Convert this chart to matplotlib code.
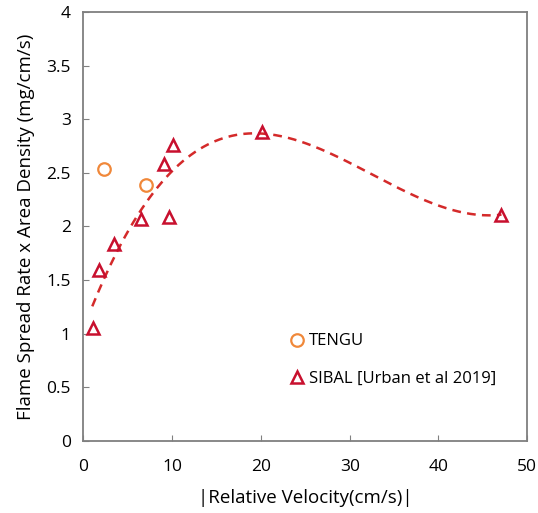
import numpy as np
import matplotlib
matplotlib.use("Agg")
import matplotlib.pyplot as plt

plt.rcParams['font.family'] = ['Open Sans', 'DejaVu Sans']

# data
tengu_x = [2.35, 7.05]
tengu_y = [2.54, 2.39]
sibal_x = [1.04, 1.78, 3.47, 6.48, 9.68, 9.08, 10.13, 20.1, 47.1]
sibal_y = [1.05, 1.59, 1.84, 2.07, 2.09, 2.58, 2.76, 2.88, 2.11]

# trendline (cubic fit of SIBAL data)
coef = np.polyfit(sibal_x, sibal_y, 3)
xfit = np.linspace(1.0, 47.1, 200)
yfit = np.polyval(coef, xfit)

fig = plt.figure(figsize=(5.38, 5.13), dpi=100)
ax = fig.add_axes([0.155, 0.141, 0.825, 0.835])

ax.plot(xfit, yfit, color="#D42A2A", linestyle=(0, (3.5, 2.5)), linewidth=1.8)
ax.plot(tengu_x, tengu_y, linestyle="none", marker="o", markersize=9,
        markerfacecolor="none", markeredgecolor="#F0883A", markeredgewidth=1.6,
        label="TENGU")
ax.plot(sibal_x, sibal_y, linestyle="none", marker="^", markersize=8.5,
        markerfacecolor="none", markeredgecolor="#C8102E", markeredgewidth=1.8,
        label="SIBAL [Urban et al 2019]")

ax.set_xlim(0, 50)
ax.set_ylim(0, 4)
ax.set_xticks([0, 10, 20, 30, 40, 50])
ax.set_yticks([0, 0.5, 1, 1.5, 2, 2.5, 3, 3.5, 4])
ax.set_yticklabels(["0", "0.5", "1", "1.5", "2", "2.5", "3", "3.5", "4"])
ax.tick_params(direction="in", length=4, color="#808080", labelsize=12.5, pad=9)
ax.tick_params(axis="x", pad=13)
for s in ax.spines.values():
    s.set_color("#7f7f7f")
    s.set_linewidth(1.3)

ax.set_xlabel("|Relative Velocity(cm/s)|", fontsize=13.5, labelpad=10)
ax.set_ylabel("Flame Spread Rate x Area Density (mg/cm/s)", fontsize=13.5, labelpad=8)

ax.legend(loc="lower left", bbox_to_anchor=(0.425, 0.09), frameon=False,
          fontsize=12, handletextpad=0.1, labelspacing=1.3, handlelength=1.2)

fig.savefig("out.png", dpi=100)
